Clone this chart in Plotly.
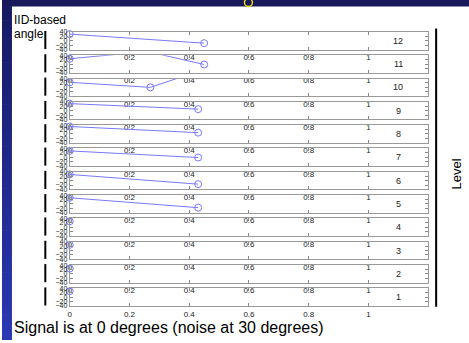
import plotly.graph_objects as go

# ---- data -------------------------------------------------------------
levels = [12, 11, 10, 9, 8, 7, 6, 5, 4, 3, 2, 1]

x_l12 = [0.0, 0.45];        y_l12 = [30, -11]
x_l11 = [0.0, 0.26, 0.45];  y_l11 = [24, 57, -2]
x_l10 = [0.0, 0.27, 0.45];  y_l10 = [23, 0, 82]
x_l9 = [0.0, 0.43];         y_l9 = [32, 7]
x_l8 = [0.0, 0.43];         y_l8 = [34, 6]
x_l7 = [0.0, 0.43];         y_l7 = [29, -1]
x_l6 = [0.0, 0.43];         y_l6 = [28, -16]
x_l5 = [0.0, 0.43];         y_l5 = [28, -17]
x_l4 = [0.0];               y_l4 = [27]
x_l3 = [0.0];               y_l3 = [26]
x_l2 = [0.0];               y_l2 = [24]
x_l1 = [0.0];               y_l1 = [27]

angle_ticks = [-40, -20, 0, 20, 40]
freq_ticks = [0, 0.2, 0.4, 0.6, 0.8, 1]

series = {
    12: (x_l12, y_l12), 11: (x_l11, y_l11), 10: (x_l10, y_l10),
    9: (x_l9, y_l9), 8: (x_l8, y_l8), 7: (x_l7, y_l7),
    6: (x_l6, y_l6), 5: (x_l5, y_l5), 4: (x_l4, y_l4),
    3: (x_l3, y_l3), 2: (x_l2, y_l2), 1: (x_l1, y_l1),
}

# ---- layout geometry (pixels) ----------------------------------------
W, H = 469, 343
PLOT_L, PLOT_R = 68, 428
TOP0, STEP, PH = 28.5, 23.8, 18
LINE_COL = "#7878ff"
FONT = "Liberation Sans, Arial, sans-serif"

fig = go.Figure()
layout = dict(
    width=W, height=H,
    margin=dict(l=0, r=0, t=0, b=0),
    paper_bgcolor="white", plot_bgcolor="white",
    showlegend=False,
    font=dict(family=FONT, color="black"),
)
shapes = []
annotations = []

for i, lev in enumerate(levels):
    n = i + 1
    sfx = "" if n == 1 else str(n)
    top = TOP0 + i * STEP
    bot = top + PH
    xs, ys = series[lev]

    layout["xaxis" + sfx] = dict(
        domain=[PLOT_L / W, PLOT_R / W], range=[0, 1.2],
        anchor="y" + sfx, tickvals=freq_ticks,
        ticks="inside", ticklen=3, tickcolor="#888",
        showline=True, linecolor="#999", linewidth=1, mirror="ticks",
        showgrid=False, zeroline=False,
        tickfont=dict(size=8, color="#222", family=FONT),
    )
    layout["yaxis" + sfx] = dict(
        domain=[1 - bot / H, 1 - top / H], range=[-40, 40],
        anchor="x" + sfx, tickvals=angle_ticks,
        ticks="inside", ticklen=3, tickcolor="#888",
        showline=True, linecolor="#999", linewidth=1, mirror="ticks",
        showgrid=False, zeroline=False,
        tickfont=dict(size=7, color="#222", family=FONT),
    )

    fig.add_trace(go.Scatter(
        x=xs, y=ys, mode="lines", xaxis="x" + sfx, yaxis="y" + sfx,
        line=dict(color=LINE_COL, width=1), hoverinfo="skip",
    ))
    inside = [(a, b) for a, b in zip(xs, ys) if -40 <= b <= 40]
    fig.add_trace(go.Scatter(
        x=[p[0] for p in inside], y=[p[1] for p in inside],
        mode="markers", xaxis="x" + sfx, yaxis="y" + sfx,
        marker=dict(symbol="circle-open", size=7, color=LINE_COL,
                    line=dict(width=1)),
        cliponaxis=False, hoverinfo="skip",
    ))

    annotations.append(dict(
        x=1.1, y=0, xref="x" + sfx, yref="y" + sfx, text=str(lev),
        showarrow=False, font=dict(size=9, color="#222", family=FONT),
    ))

    # bracket segment on the left
    shapes.append(dict(
        type="line", xref="paper", yref="paper",
        x0=43.5 / W, x1=43.5 / W,
        y0=1 - (top - 1) / H, y1=1 - (top + 17.5) / H,
        line=dict(color="black", width=2),
    ))

# bracket on the right
shapes.append(dict(
    type="line", xref="paper", yref="paper",
    x0=436 / W, x1=436 / W, y0=1 - 25 / H, y1=1 - 309 / H,
    line=dict(color="black", width=2),
))

# slide frame: blue band on the left, navy band on top
NB = 40
c0, c1 = (24, 26, 100), (42, 56, 178)
for k in range(NB):
    t = k / (NB - 1)
    col = "rgb(%d,%d,%d)" % tuple(int(c0[j] + (c1[j] - c0[j]) * t) for j in range(3))
    shapes.append(dict(
        type="rect", xref="paper", yref="paper",
        x0=0, x1=10 / W,
        y0=1 - (k + 1) / NB, y1=1 - k / NB + 0.002,
        fillcolor=col, line=dict(width=0), layer="above",
    ))
shapes.append(dict(
    type="rect", xref="paper", yref="paper",
    x0=0, x1=1, y0=1 - 2.5 / H, y1=1.02,
    fillcolor="#18185a", line=dict(width=0), layer="above",
))
shapes.append(dict(
    type="circle", xref="paper", yref="paper",
    x0=243.5 / W, x1=251.5 / W, y0=1 - 2.5 / H, y1=1 + 5.5 / H,
    line=dict(color="#e8d81a", width=1.5), layer="above",
))

annotations += [
    dict(x=10 / W, y=1 - 16.5 / H, xref="paper", yref="paper",
         text="IID-based", showarrow=False, xanchor="left", yanchor="middle",
         font=dict(size=12, color="black", family=FONT)),
    dict(x=10 / W, y=1 - 31 / H, xref="paper", yref="paper",
         text="angle", showarrow=False, xanchor="left", yanchor="middle",
         font=dict(size=12, color="black", family=FONT)),
    dict(x=456 / W, y=1 - 174 / H, xref="paper", yref="paper",
         text="Level", showarrow=False, textangle=-90,
         xanchor="center", yanchor="middle",
         font=dict(size=13, color="black", family=FONT)),
    dict(x=10 / W, y=1 - 330 / H, xref="paper", yref="paper",
         text="Signal is at 0 degrees (noise at 30 degrees)",
         showarrow=False, xanchor="left", yanchor="middle",
         font=dict(size=16, color="black", family=FONT)),
]

layout["shapes"] = shapes
layout["annotations"] = annotations
fig.update_layout(**layout)
fig.write_html("out.html")
